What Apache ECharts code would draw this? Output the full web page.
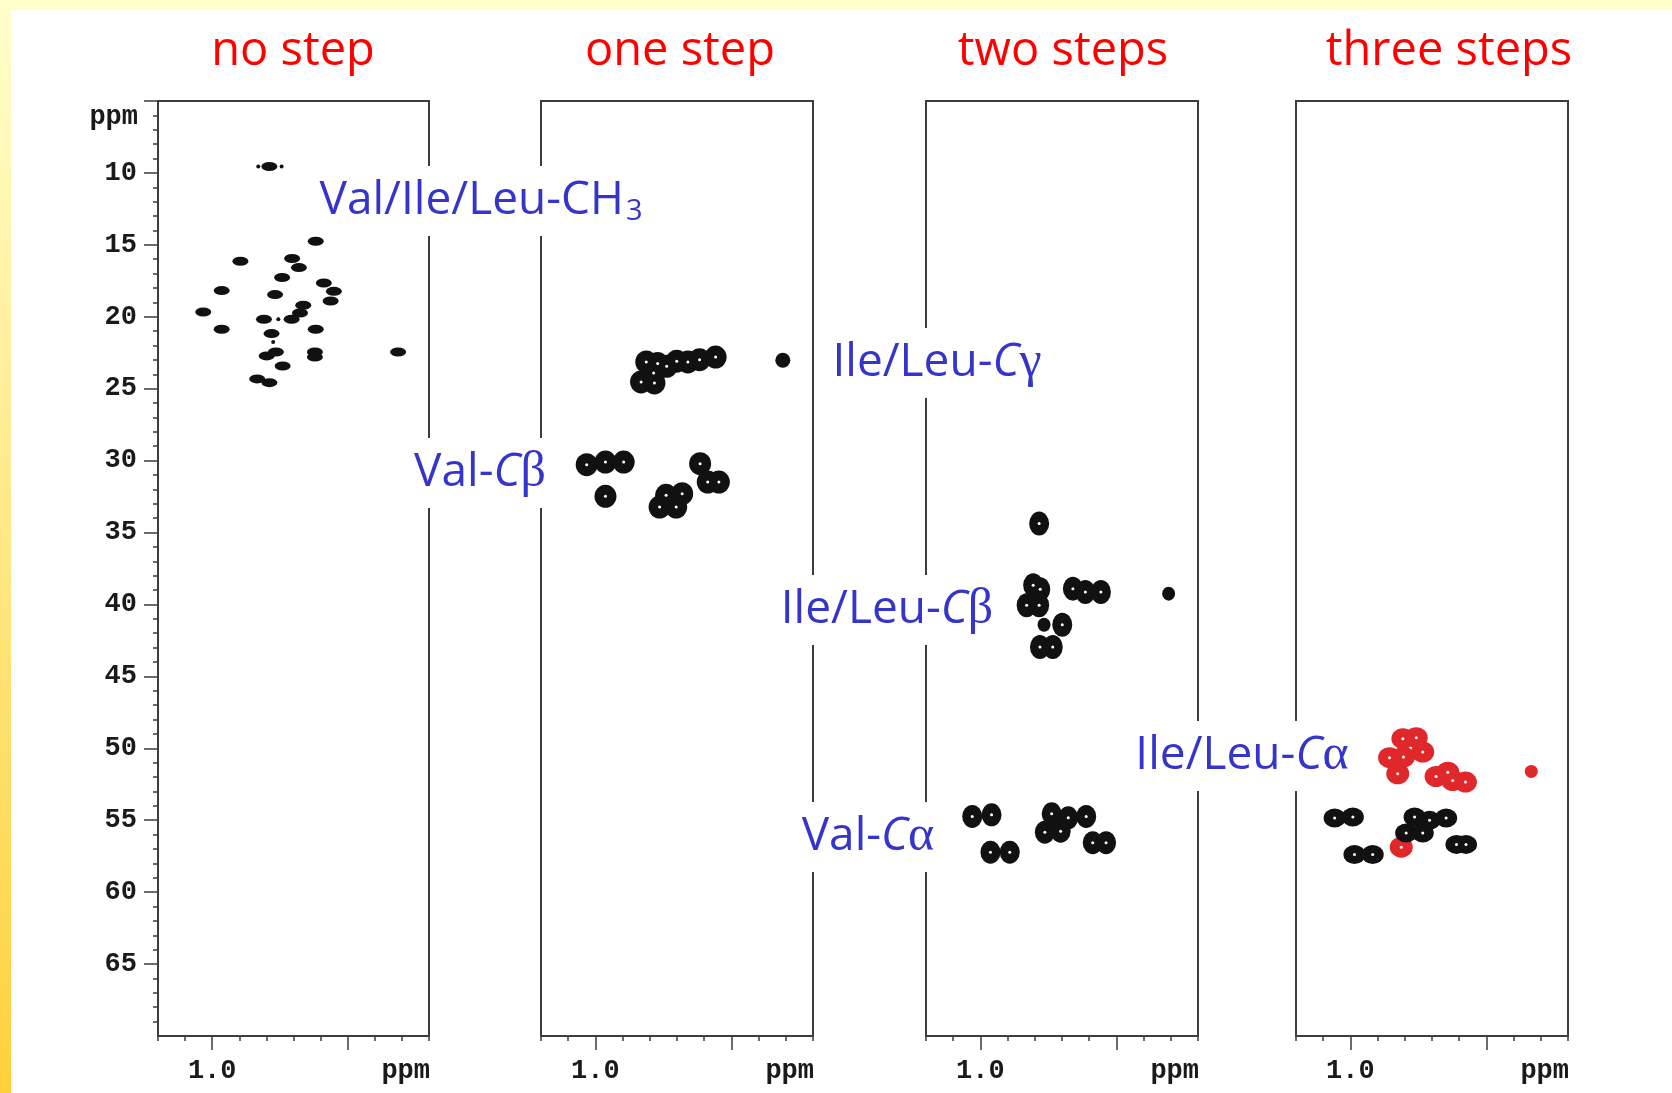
<!DOCTYPE html>
<html><head><meta charset="utf-8">
<script src="https://cdn.jsdelivr.net/npm/echarts@6/dist/echarts.min.js"></script>
<style>html,body{margin:0;padding:0;background:#fff}#c{width:1672px;height:1093px}</style>
</head><body><div id="c"></div><script>
// ---------- data ----------
const panelTitles = ['no step', 'one step', 'two steps', 'three steps'];
const yTickLabels = [10, 15, 20, 25, 30, 35, 40, 45, 50, 55, 60, 65];
const yMajorTicks = [5, 10, 15, 20, 25, 30, 35, 40, 45, 50, 55, 60, 65];
const xLongTicks = [1.0, 0.5];
const xTickLabels = [1.0];

// panel 1: methyl region (1H ppm, 13C ppm)
const methylPeaks = [
  [0.789, 9.55], [0.618, 14.75], [0.896, 16.14], [0.705, 15.95], [0.680, 16.58],
  [0.742, 17.27], [0.588, 17.65], [0.551, 18.23], [0.965, 18.18], [0.768, 18.46],
  [0.563, 18.90], [0.664, 19.20], [1.033, 19.67], [0.676, 19.74], [0.707, 20.17],
  [0.809, 20.17], [0.965, 20.87], [0.618, 20.87], [0.781, 21.17], [0.314, 22.45],
  [0.799, 22.72], [0.765, 22.45], [0.621, 22.45], [0.621, 22.80], [0.740, 23.42],
  [0.834, 24.32], [0.789, 24.58]
];
const methylDots = [[0.830, 9.55], [0.744, 9.55], [0.756, 20.17], [0.775, 21.75]];

// panel 2: one step
const ileLeuGammaPeaks = [
  [0.813, 23.14], [0.771, 23.25], [0.738, 23.44], [0.701, 23.09], [0.660, 23.14],
  [0.617, 22.98], [0.558, 22.80], [0.786, 23.91], [0.832, 24.53], [0.783, 24.60]
];
const ileLeuGammaSmall = [[0.311, 23.02]];
const valBetaPeaks = [
  [1.032, 30.28], [0.963, 30.10], [0.896, 30.10], [0.963, 32.48], [0.615, 30.21],
  [0.587, 31.49], [0.546, 31.49], [0.740, 32.41], [0.681, 32.30], [0.764, 33.23],
  [0.703, 33.23]
];

// panel 3: two steps
const ileLeuBetaPeaks = [
  [0.784, 34.38], [0.806, 38.67], [0.780, 38.95], [0.830, 40.06], [0.784, 40.06],
  [0.660, 38.90], [0.614, 39.14], [0.557, 39.14], [0.699, 41.41], [0.781, 42.96],
  [0.734, 42.96]
];
const ileLeuBetaSmall = [[0.308, 39.25], [0.766, 41.41]];
const valAlphaPeaks3 = [
  [1.030, 54.74], [0.959, 54.62], [0.963, 57.22], [0.892, 57.22], [0.738, 54.55],
  [0.677, 54.83], [0.611, 54.74], [0.763, 55.83], [0.705, 55.76], [0.587, 56.56],
  [0.538, 56.56]
];

// panel 4: three steps
const ileLeuAlphaPeaks = [
  [0.807, 49.33], [0.758, 49.26], [0.734, 50.26], [0.856, 50.65], [0.805, 50.61],
  [0.826, 51.77], [0.685, 51.96], [0.642, 51.66], [0.624, 52.24], [0.577, 52.35],
  [0.813, 56.87]
];
const ileLeuAlphaSmall = [[0.335, 51.61]];
const valAlphaPeaks4 = [
  [1.058, 54.85], [0.991, 54.78], [0.985, 57.38], [0.918, 57.38], [0.764, 54.78],
  [0.709, 55.01], [0.648, 54.85], [0.795, 55.89], [0.734, 55.89], [0.610, 56.68],
  [0.575, 56.68]
];

// ---------- layout ----------
const panelLeft = [158, 541, 926, 1296];
const panelWidth = [271, 272, 272, 272];
const panelTop = 101, panelHeight = 935;
const titleCenters = [293, 680, 1063, 1449];
const axisColor = '#3d3d3d';
const monoFont = '"Liberation Mono", "Courier New", monospace';
const labelFont = '"Open Sans", sans-serif';
const blue = '#3535cc';

const chart = echarts.init(document.getElementById('c'), null, {renderer: 'canvas', width: 1672, height: 1093});

const grid = panelLeft.map((l, i) => ({
  left: l, top: panelTop, width: panelWidth[i], height: panelHeight,
  show: true, borderColor: axisColor, borderWidth: 2, backgroundColor: 'transparent', containLabel: false
}));

const xAxis = [];
const yAxis = [];
for (let i = 0; i < 4; i++) {
  xAxis.push({
    gridIndex: i, type: 'value', min: 0.2, max: 1.2, interval: 0.1, inverse: true, position: 'bottom',
    axisLine: {show: true, onZero: false, lineStyle: {color: axisColor, width: 2}},
    axisTick: {show: true, length: 5, lineStyle: {color: axisColor, width: 1.5}},
    axisLabel: {show: false}, splitLine: {show: false}
  });
  xAxis.push({
    gridIndex: i, type: 'value', min: 0.2, max: 1.2, inverse: true, position: 'bottom', offset: 0,
    axisLine: {show: false, onZero: false},
    axisTick: {show: true, length: 14, customValues: xLongTicks, lineStyle: {color: axisColor, width: 1.5}},
    axisLabel: {show: true, customValues: xTickLabels, formatter: v => Number(v).toFixed(1), margin: 22,
      fontFamily: monoFont, fontSize: 27, fontWeight: 'bold', color: '#1a1a1a'},
    splitLine: {show: false}
  });
  yAxis.push({
    gridIndex: i, type: 'value', min: 5, max: 70, interval: 5, inverse: true, show: i === 0,
    axisLine: {show: true, onZero: false, lineStyle: {color: axisColor, width: 2}},
    axisTick: {show: true, length: 14, customValues: yMajorTicks, lineStyle: {color: axisColor, width: 1.5}},
    minorTick: {show: true, splitNumber: 5, length: 5, lineStyle: {color: axisColor, width: 1.5}},
    axisLabel: {show: true, customValues: yTickLabels, margin: 21, fontFamily: monoFont, fontSize: 27, fontWeight: 'bold', color: '#1a1a1a'},
    splitLine: {show: false}, minorSplitLine: {show: false}
  });
}

function peaks(name, data, panel, size, color, z) {
  return {
    name: name, type: 'scatter', data: data, xAxisIndex: panel * 2, yAxisIndex: panel,
    symbol: 'circle', symbolSize: size, itemStyle: {color: color, opacity: 1}, z: z || 3,
    silent: true, animation: false
  };
}
const black = '#111111', red = '#e0282a';
const series = [
  peaks('methyl', methylPeaks, 0, [16, 9], black),
  peaks('methyl dots', methylDots, 0, [4, 4], black),
  peaks('Ile/Leu-Cγ', ileLeuGammaPeaks, 1, [22, 23], black),
  peaks('Ile/Leu-Cγ small', ileLeuGammaSmall, 1, [15, 15], black),
  peaks('Val-Cβ', valBetaPeaks, 1, [22, 23], black),
  peaks('Ile/Leu-Cβ', ileLeuBetaPeaks, 2, [20, 24], black),
  peaks('Ile/Leu-Cβ small', ileLeuBetaSmall, 2, [13, 14], black),
  peaks('Val-Cα 2', valAlphaPeaks3, 2, [20, 23], black),
  peaks('Ile/Leu-Cα', ileLeuAlphaPeaks, 3, [23, 21], red),
  peaks('Ile/Leu-Cα small', ileLeuAlphaSmall, 3, [13, 13], red),
  peaks('Val-Cα 3', valAlphaPeaks4, 3, [22, 19], black)
];
// inner contour specks
[[valBetaPeaks, 1], [ileLeuGammaPeaks, 1], [ileLeuBetaPeaks, 2], [valAlphaPeaks3, 2], [ileLeuAlphaPeaks, 3], [valAlphaPeaks4, 3]]
  .forEach(([d, p]) => series.push(peaks('speck', d, p, [3, 3], '#ffffff', 4)));

// ---------- annotations ----------
const graphic = [];
graphic.push({type: 'rect', z: 0, silent: true, shape: {x: 0, y: 0, width: 1672, height: 10}, style: {fill: '#ffffcc'}});
graphic.push({type: 'rect', z: 0, silent: true, shape: {x: 0, y: 0, width: 11, height: 1093},
  style: {fill: new echarts.graphic.LinearGradient(0, 0, 0, 1, [{offset: 0, color: '#ffffcc'}, {offset: 1, color: '#ffd03c'}])}});

panelTitles.forEach((t, i) => graphic.push({
  type: 'text', x: titleCenters[i], y: 52, z: 50, silent: true,
  style: {text: t, fill: '#ff0000', font: '500 47px ' + labelFont, align: 'center', verticalAlign: 'middle',
    textAlign: 'center', textVerticalAlign: 'middle'}
}));

// axis unit labels
graphic.push({type: 'text', x: 138, y: 117, z: 50, silent: true,
  style: {text: 'ppm', fill: '#1a1a1a', font: 'bold 27px ' + monoFont, align: 'right', verticalAlign: 'middle', textAlign: 'right', textVerticalAlign: 'middle'}});
panelLeft.forEach((l, i) => graphic.push({type: 'text', x: l + panelWidth[i] + 1, y: 1058, z: 50, silent: true,
  style: {text: 'ppm', fill: '#1a1a1a', font: 'bold 27px ' + monoFont, align: 'right', verticalAlign: 'top', textAlign: 'right', textVerticalAlign: 'top'}}));

const richBase = {
  a: {fontFamily: labelFont, fontSize: 46, fill: blue, color: blue, lineHeight: 52},
  c: {fontFamily: labelFont, fontSize: 46, fontStyle: 'italic', fill: blue, color: blue, lineHeight: 52},
  g: {fontFamily: '"Liberation Serif", "DejaVu Serif", serif', fontSize: 50, fill: blue, color: blue, lineHeight: 52},
  s: {fontFamily: labelFont, fontSize: 29, fill: blue, color: blue, lineHeight: 52, padding: [22, 0, 0, 2]}
};
const annotations = [
  {text: '{a|Val/Ile/Leu-CH}{s|3}', x: 481, y: 201},
  {text: '{a|Ile/Leu-}{c|C}{g|γ}', x: 937, y: 363},
  {text: '{a|Val-}{c|C}{g|β}', x: 480, y: 473},
  {text: '{a|Ile/Leu-}{c|C}{g|β}', x: 887, y: 610},
  {text: '{a|Ile/Leu-}{c|C}{g|α}', x: 1242, y: 756},
  {text: '{a|Val-}{c|C}{g|α}', x: 868, y: 837}
];
annotations.forEach(a => graphic.push({
  type: 'text', x: a.x, y: a.y, z: 100, silent: true,
  style: {text: a.text, rich: richBase, fill: blue, align: 'center', verticalAlign: 'middle', textAlign: 'center', textVerticalAlign: 'middle',
    backgroundColor: '#ffffff', padding: [9, 6, 9, 6]}
}));

chart.setOption({
  backgroundColor: '#ffffff',
  animation: false,
  grid: grid,
  xAxis: xAxis,
  yAxis: yAxis,
  series: series,
  graphic: {elements: graphic}
});
</script></body></html>
